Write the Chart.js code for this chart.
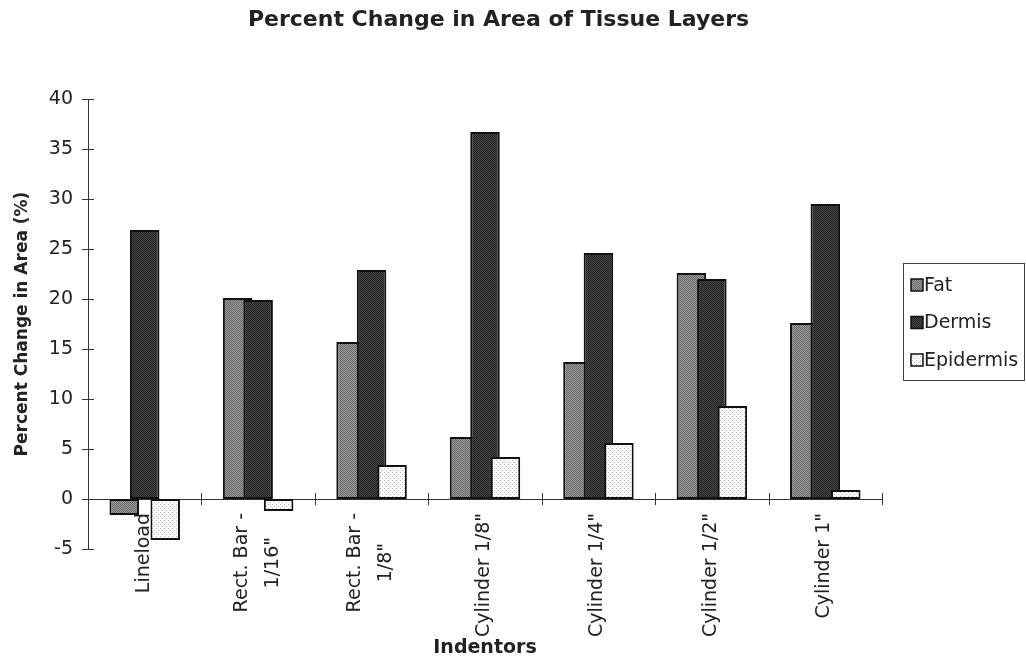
<!DOCTYPE html>
<html>
<head>
<meta charset="utf-8">
<script src="https://cdn.jsdelivr.net/npm/chart.js@4.4.1/dist/chart.umd.min.js"></script>
<style>
	body { margin: 0; background: #fff; }
	canvas { display: block; }
</style>
</head>
<body>
<canvas id="tissueChart" width="1026" height="662"></canvas>
<script>
// values
var indentors = ['Lineload', ['Rect. Bar -', '1/16"'], ['Rect. Bar -', '1/8"'], 'Cylinder 1/8"', 'Cylinder 1/4"', 'Cylinder 1/2"', 'Cylinder 1"'];
var fat = [-1.6, 20.1, 15.7, 6.2, 13.7, 22.6, 17.6];
var dermis = [26.9, 19.9, 22.9, 36.7, 24.6, 22.0, 29.5];
var epidermis = [-4.1, -1.2, 3.4, 4.2, 5.6, 9.3, 0.9];
var seriesNames = ['Fat', 'Dermis', 'Epidermis'];
var yMin = -5, yMax = 40, yStep = 5;

(function () {
	var canvas = document.getElementById('tissueChart');
	var ctx = canvas.getContext('2d');
	var FONT = "'DejaVu Sans', 'Liberation Sans', sans-serif";
	var INK = '#222';

	// small stipple textures like the old printout
	function stipple(base, dot, step) {
		var c = document.createElement('canvas');
		c.width = c.height = step;
		var g = c.getContext('2d');
		g.fillStyle = base;
		g.fillRect(0, 0, step, step);
		g.fillStyle = dot;
		g.fillRect(0, 0, 1, 1);
		g.fillRect(step / 2, step / 2, 1, 1);
		return ctx.createPattern(c, 'repeat');
	}
	var fills = [
		stipple('#9a9a9a', '#686868', 2),
		stipple('#464646', '#222222', 2),
		stipple('#fbfbfb', '#b8b8b8', 4)
	];

	// later series sit on top of earlier ones (Excel style overlap)
	var drawForward = {
		id: 'drawForward',
		beforeDatasetsDraw: function (chart) {
			chart.getSortedVisibleDatasetMetas().forEach(function (meta) {
				meta.controller.draw();
			});
			return false;
		}
	};

	var decorations = {
		id: 'decorations',
		afterDraw: function (chart) {
			var c = chart.ctx, a = chart.chartArea;
			var xs = chart.scales.x, ys = chart.scales.y;
			var zero = ys.getPixelForValue(0);
			c.save();
			// tick marks crossing the axes
			c.strokeStyle = '#333';
			c.lineWidth = 1;
			c.beginPath();
			for (var v = yMin; v <= yMax; v += yStep) {
				var py = Math.round(ys.getPixelForValue(v)) + 0.5;
				c.moveTo(a.left - 6, py);
				c.lineTo(a.left + 6, py);
			}
			for (var i = 0; i <= indentors.length; i++) {
				var px = Math.round(xs.getPixelForValue(i - 0.5)) + 0.5;
				c.moveTo(px, zero - 6);
				c.lineTo(px, zero + 6);
			}
			c.stroke();

			// category labels, turned up, lines centred on each other
			c.fillStyle = INK;
			c.font = '19px ' + FONT;
			c.textAlign = 'center';
			c.textBaseline = 'middle';
			indentors.forEach(function (lab, i) {
				var lines = Array.isArray(lab) ? lab : [lab];
				var w = 0;
				lines.forEach(function (t) { w = Math.max(w, c.measureText(t).width); });
				c.save();
				c.translate(xs.getPixelForValue(i) - 1, zero + 14);
				c.rotate(-Math.PI / 2);
				lines.forEach(function (t, k) {
					c.fillText(t, -w / 2, (k - (lines.length - 1) / 2) * 31);
				});
				c.restore();
			});

			// x axis title
			c.font = 'bold 19px ' + FONT;
			c.fillText('Indentors', (a.left + a.right) / 2, 648);

			// legend with its frame
			var lx = a.right + 21, ly = (a.top + a.bottom) / 2 - 61;
			c.strokeStyle = '#444';
			c.strokeRect(lx + 0.5, ly + 0.5, chart.width - lx - 2, 117);
			c.font = '19px ' + FONT;
			c.textAlign = 'left';
			chart.data.datasets.forEach(function (ds, k) {
				var cy = ly + 22 + k * 37.5;
				c.fillStyle = ds.backgroundColor;
				c.fillRect(lx + 8, cy - 6, 12, 12);
				c.lineWidth = 1.5;
				c.strokeStyle = '#111';
				c.strokeRect(lx + 8, cy - 6, 12, 12);
				c.fillStyle = INK;
				c.fillText(ds.label, lx + 21, cy + 1);
			});
			c.restore();
		}
	};

	var sets = [fat, dermis, epidermis].map(function (vals, k) {
		return {
			label: seriesNames[k],
			data: vals,
			backgroundColor: fills[k],
			borderColor: '#111',
			borderWidth: 2,
			borderSkipped: false,
			categoryPercentage: 0.542,
			barPercentage: 1.44
		};
	});

	new Chart(ctx, {
		type: 'bar',
		data: { labels: indentors, datasets: sets },
		options: {
			responsive: false,
			animation: false,
			devicePixelRatio: 1,
			layout: { padding: { left: 0, right: 29, top: 0, bottom: 113 } },
			plugins: {
				legend: { display: false },
				tooltip: { enabled: false },
				title: {
					display: true,
					text: 'Percent Change in Area of Tissue Layers',
					color: INK,
					font: { family: FONT, size: 22, weight: 'bold' },
					padding: { top: 7, bottom: 65.6 }
				}
			},
			scales: {
				x: {
					type: 'category',
					position: { y: 0 },
					grid: { display: false, drawTicks: false },
					border: { display: true, color: '#333', width: 1 },
					ticks: { display: false }
				},
				y: {
					min: yMin,
					max: yMax,
					grid: { display: false, drawTicks: false },
					border: { display: true, color: '#333', width: 1 },
					ticks: {
						stepSize: yStep,
						padding: 15,
						color: INK,
						font: { family: FONT, size: 19 }
					},
					title: {
						display: true,
						text: 'Percent Change in Area (%)',
						color: INK,
						font: { family: FONT, size: 17, weight: 'bold' },
						padding: { top: 12, bottom: 0 }
					},
					afterFit: function (scale) { scale.width = 88; }
				},
				// empty strip on the right that leaves room for the legend
				legendRoom: {
					type: 'linear',
					position: 'right',
					grid: { display: false, drawTicks: false },
					border: { display: false },
					ticks: { display: false },
					afterFit: function (scale) { scale.width = 115; }
				}
			}
		},
		plugins: [drawForward, decorations]
	});
})();
</script>
</body>
</html>
